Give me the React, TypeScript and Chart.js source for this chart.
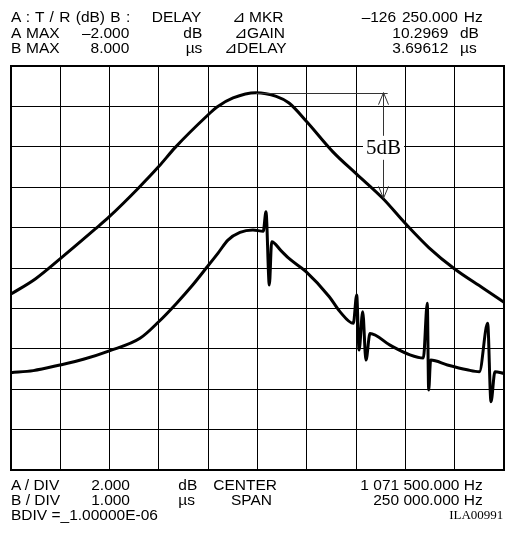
import React, { useEffect, useRef } from "react";
import { Chart, registerables } from "chart.js";

Chart.register(...registerables);

// ---- instrument settings ----
const CENTER_KHZ = 1071.5;
const SPAN_KHZ = 250;
const DIVISIONS = 10;
const A_MAX_DB = -2;
const A_DIV_DB = 2;
const B_MAX_US = 8;
const B_DIV_US = 1;

// ---- trace A : T/R gain (dB) ----
const gainFreqKHz = [
  946.5, 959.0, 971.35, 989.1, 996.35, 1011.05, 1021.4, 1029.7, 1046.75, 1050.8,
  1059.1, 1070.75, 1081.0, 1087.5, 1096.5, 1109.75, 1121.5, 1135.0, 1146.5,
  1158.5, 1171.5, 1185.75, 1196.5,
];
const gainDb = [
  -13.29, -12.53, -11.55, -10.08, -9.46, -8.05, -6.98, -6.04, -4.39, -4.04,
  -3.58, -3.32, -3.5, -3.83, -4.76, -6.25, -7.33, -8.55, -9.8, -11.0, -12.05,
  -12.99, -13.7,
];

// ---- trace B : group delay (µs) ----
const delayFreqKHz = [
  946.5, 957.8, 971.35, 983.2, 996.35, 1011.9, 1021.4, 1030.5, 1038.3, 1046.0,
  1051.5, 1056.5, 1062.6, 1069.2, 1074.4, 1075.8, 1077.5, 1078.7, 1083.4, 1087.6,
  1096.1, 1107.9, 1113.3, 1120.1, 1121.8, 1123.0, 1124.85, 1126.5, 1128.55,
  1138.7, 1148.8, 1155.6, 1157.6, 1158.3, 1159.3, 1167.8, 1177.8, 1184.0,
  1188.2, 1189.9, 1191.9, 1196.5,
];
const delayUs = [
  0.41, 0.46, 0.6, 0.74, 0.95, 1.26, 1.67, 2.13, 2.56, 3.03,
  3.37, 3.69, 3.88, 3.94,
  3.91, 4.39, 2.58, 3.65, 3.43, 3.23, 2.91, 2.29, 1.92, 1.63, 2.33, 0.97,
  1.92, 0.72, 1.38, 1.09, 0.85, 0.77, 2.13, -0.02, 0.72, 0.6, 0.48, 0.43,
  1.63, -0.31, 0.43, 0.39,
];

// ---- marker annotation ----
const markerFromKHz = 1070.75;
const markerToKHz = 1137.5;
const markerArrowKHz = 1135.0;
const markerTopDb = -3.32;
const markerBottomDb = -8.55;
const markerLabelDb = -6.05;
const markerLabel = "5dB";

// ---- readout texts ----
const header1 = ["A : T / R (dB) B :", "DELAY", "\u22BF MKR", "\u2013126 250.000 Hz"];
const header2 = ["A", "MAX", "\u20132.000", "dB", "\u22BFGAIN", "10.2969", "dB"];
const header3 = ["B", "MAX", "8.000", "\u00B5s", "\u22BFDELAY", "3.69612", "\u00B5s"];
const footer1 = ["A / DIV", "2.000", "dB", "CENTER", "1 071 500.000 Hz"];
const footer2 = ["B / DIV", "1.000", "\u00B5s", "SPAN", "250 000.000 Hz"];
const footer3 = ["BDIV =_1.00000E-06", "ILA00991"];

const W = 516;
const H = 534;

type TP = { x: number; y: number; r?: boolean; serif?: boolean; size?: number; ws?: number; children: React.ReactNode };
const T = ({ x, y, r, serif, size, ws, children }: TP) => (
  <div
    style={{
      position: "absolute",
      top: y,
      ...(r ? { right: W - x } : { left: x }),
      fontFamily: serif ? "'Liberation Serif', serif" : "'Liberation Sans', Arial, sans-serif",
      fontSize: size ?? 15.5,
      lineHeight: "15px",
      whiteSpace: "pre",
      wordSpacing: ws ?? 0,
      color: "#000",
    }}
  >
    {children}
  </div>
);

const framePlugin = {
  id: "frame",
  beforeDatasetsDraw(chart: any) {
    const { ctx, chartArea: a } = chart;
    ctx.save();
    ctx.strokeStyle = "#000";
    ctx.lineWidth = 2;
    ctx.strokeRect(a.left, a.top, a.right - a.left, a.bottom - a.top);
    ctx.restore();
  },
};

const markerPlugin = {
  id: "marker",
  afterDatasetsDraw(chart: any) {
    const { ctx } = chart;
    const xs = chart.scales.x;
    const ys = chart.scales.yA;
    const x0 = xs.getPixelForValue(markerFromKHz - CENTER_KHZ);
    const x1 = xs.getPixelForValue(markerToKHz - CENTER_KHZ);
    const xa = Math.round(xs.getPixelForValue(markerArrowKHz - CENTER_KHZ)) + 0.5;
    const yt = ys.getPixelForValue(markerTopDb);
    const yb = ys.getPixelForValue(markerBottomDb);
    const yl = ys.getPixelForValue(markerLabelDb);
    ctx.save();
    ctx.strokeStyle = "#333";
    ctx.lineWidth = 1;
    ctx.beginPath();
    ctx.moveTo(x0, Math.round(yt) + 0.5);
    ctx.lineTo(x1, Math.round(yt) + 0.5);
    ctx.moveTo(xa, yt);
    ctx.lineTo(xa, yb);
    ctx.moveTo(xa - 5, yt + 12);
    ctx.lineTo(xa, yt);
    ctx.lineTo(xa + 5, yt + 12);
    ctx.moveTo(xa - 5, yb - 12);
    ctx.lineTo(xa, yb);
    ctx.lineTo(xa + 5, yb - 12);
    ctx.stroke();
    ctx.font = "21px 'Liberation Serif', serif";
    const tw = ctx.measureText(markerLabel).width;
    ctx.fillStyle = "#fff";
    ctx.fillRect(xa - tw / 2 - 3, yl - 12, tw + 6, 24);
    ctx.fillStyle = "#000";
    ctx.textAlign = "center";
    ctx.textBaseline = "middle";
    ctx.fillText(markerLabel, xa, yl + 1);
    ctx.restore();
  },
};

export default function App() {
  const ref = useRef<HTMLCanvasElement | null>(null);
  useEffect(() => {
    if (!ref.current) return;
    const gridOpts = { color: "#000", lineWidth: 1, drawTicks: false };
    const chart = new Chart(ref.current, {
      type: "line",
      data: {
        datasets: [
          {
            label: "A",
            data: gainFreqKHz.map((f, i) => ({ x: f - CENTER_KHZ, y: gainDb[i] })),
            yAxisID: "yA",
            borderColor: "#000",
            borderWidth: 3,
            pointRadius: 0,
            cubicInterpolationMode: "monotone",
          },
          {
            label: "B",
            data: delayFreqKHz.map((f, i) => ({ x: f - CENTER_KHZ, y: delayUs[i] })),
            yAxisID: "yB",
            borderColor: "#000",
            borderWidth: 3,
            pointRadius: 0,
            cubicInterpolationMode: "monotone",
          },
        ],
      },
      options: {
        animation: false,
        responsive: false,
        devicePixelRatio: 1,
        layout: { padding: { left: 11, top: 66, right: 12, bottom: 64 } },
        plugins: { legend: { display: false }, tooltip: { enabled: false } },
        scales: {
          x: {
            type: "linear",
            min: -SPAN_KHZ / 2,
            max: SPAN_KHZ / 2,
            ticks: { display: false, stepSize: SPAN_KHZ / DIVISIONS },
            grid: gridOpts,
            border: { display: false },
          },
          yA: {
            type: "linear",
            position: "left",
            min: A_MAX_DB - A_DIV_DB * DIVISIONS,
            max: A_MAX_DB,
            ticks: { display: false, stepSize: A_DIV_DB },
            grid: gridOpts,
            border: { display: false },
          },
          yB: {
            type: "linear",
            position: "right",
            min: B_MAX_US - B_DIV_US * DIVISIONS,
            max: B_MAX_US,
            ticks: { display: false, stepSize: B_DIV_US },
            grid: { display: false, drawTicks: false },
            border: { display: false },
          },
        },
      },
      plugins: [framePlugin, markerPlugin],
    } as any);
    return () => chart.destroy();
  }, []);

  return (
    <div style={{ position: "absolute", left: 0, top: 0, width: W, height: H, background: "#fff", overflow: "hidden" }}>
      <canvas ref={ref} width={W} height={H} style={{ position: "absolute", left: 0, top: 0, width: W, height: H }} />
      <T x={11} y={9} ws={1}>{header1[0]}</T>
      <T x={151.7} y={9}>{header1[1]}</T>
      <T x={231.7} y={9}>{header1[2]}</T>
      <T x={482.7} y={9} r ws={1.5}>{header1[3]}</T>

      <T x={11} y={24.6}>{header2[0]}</T>
      <T x={26} y={24.6}>{header2[1]}</T>
      <T x={129.3} y={24.6} r>{header2[2]}</T>
      <T x={202.3} y={24.6} r>{header2[3]}</T>
      <T x={285} y={24.6} r>{header2[4]}</T>
      <T x={448.3} y={24.6} r>{header2[5]}</T>
      <T x={460} y={24.6}>{header2[6]}</T>

      <T x={11} y={40.2}>{header3[0]}</T>
      <T x={26} y={40.2}>{header3[1]}</T>
      <T x={129.3} y={40.2} r>{header3[2]}</T>
      <T x={202.3} y={40.2} r>{header3[3]}</T>
      <T x={286.7} y={40.2} r>{header3[4]}</T>
      <T x={448.3} y={40.2} r>{header3[5]}</T>
      <T x={460} y={40.2}>{header3[6]}</T>

      <T x={11} y={476.6}>{footer1[0]}</T>
      <T x={130} y={476.6} r>{footer1[1]}</T>
      <T x={178.3} y={476.6}>{footer1[2]}</T>
      <T x={213.3} y={476.6}>{footer1[3]}</T>
      <T x={482.7} y={476.6} r>{footer1[4]}</T>

      <T x={11} y={492.3}>{footer2[0]}</T>
      <T x={130} y={492.3} r>{footer2[1]}</T>
      <T x={178.3} y={492.3}>{footer2[2]}</T>
      <T x={272} y={492.3} r>{footer2[3]}</T>
      <T x={482.7} y={492.3} r>{footer2[4]}</T>

      <T x={11} y={507.3}>{footer3[0]}</T>
      <T x={503.3} y={507.3} r serif size={13}>{footer3[1]}</T>
    </div>
  );
}
